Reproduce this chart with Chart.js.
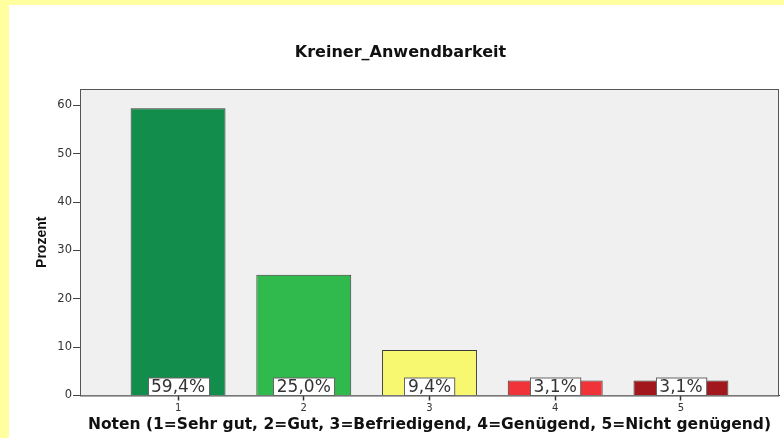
<!DOCTYPE html>
<html>
<head>
<meta charset="utf-8">
<script src="https://cdn.jsdelivr.net/npm/chart.js@4.4.0/dist/chart.umd.min.js"></script>
<style>
  html, body { margin: 0; padding: 0; background: #FFFFA0; width: 784px; height: 438px; overflow: hidden; }
  #box { position: absolute; left: 9px; top: 5px; width: 775px; height: 433px; background: #fff; }
</style>
</head>
<body>
<div id="box"><canvas id="myChart" width="775" height="433"></canvas></div>
<script>
// Noten 1..5, Prozent
const noten = [1, 2, 3, 4, 5];
const prozent = [59.4, 25.0, 9.4, 3.1, 3.1];
const prozentLabels = ['59,4%', '25,0%', '9,4%', '3,1%', '3,1%'];
const barColors = ['#128D4B', '#30B94C', '#F8F770', '#EF3339', '#A2171B'];

const plotBackground = {
    id: 'plotBackground',
    beforeDatasetsDraw(chart) {
        const a = chart.chartArea;
        const ctx = chart.ctx;
        ctx.save();
        ctx.fillStyle = '#F0F0F0';
        ctx.fillRect(a.left, a.top, a.right - a.left, a.bottom - a.top);
        ctx.strokeStyle = '#555';
        ctx.lineWidth = 1;
        ctx.strokeRect(a.left + 0.5, a.top + 0.5, a.right - a.left - 1, a.bottom - a.top);
        ctx.restore();
    }
};

// white boxes with the percentage at the foot of each bar
const valueBoxes = {
    id: 'valueBoxes',
    afterDatasetsDraw(chart) {
        const ctx = chart.ctx;
        const y0 = chart.scales.y.getPixelForValue(0);
        ctx.save();
        ctx.font = '17px "DejaVu Sans"';
        ctx.textAlign = 'center';
        ctx.textBaseline = 'middle';
        chart.getDatasetMeta(0).data.forEach(function(bar, i) {
            const txt = prozentLabels[i];
            const w = ctx.measureText(txt).width + 7;
            const h = 17.5;
            const x = Math.round(bar.x - w / 2) + 0.5;
            ctx.fillStyle = '#fff';
            ctx.fillRect(x, y0 - h, w, h);
            ctx.strokeStyle = '#666';
            ctx.lineWidth = 1;
            ctx.strokeRect(x, y0 - h, w, h);
            ctx.fillStyle = '#333';
            ctx.fillText(txt, bar.x, y0 - h / 2 + 1);
        });
        ctx.restore();
    }
};

const ctx = document.getElementById('myChart').getContext('2d');
const myChart = new Chart(ctx, {
    type: 'bar',
    data: {
        datasets: [{
            data: noten.map(function(n, i) { return { x: n, y: prozent[i] }; }),
            backgroundColor: barColors,
            borderColor: '#3a3a3a',
            borderWidth: 1,
            barPercentage: 0.755,
            categoryPercentage: 1.0
        }]
    },
    options: {
        responsive: false,
        animation: false,
        layout: { padding: { left: 13, right: 5, top: 0, bottom: 0 } },
        plugins: {
            legend: { display: false },
            tooltip: { enabled: false },
            title: {
                display: true,
                text: 'Kreiner_Anwendbarkeit',
                color: '#111',
                font: { family: '"DejaVu Sans"', size: 16, weight: 'bold', lineHeight: 1.2 },
                padding: { top: 38.4, bottom: 26.4 }
            }
        },
        scales: {
            x: {
                type: 'linear',
                offset: false,
                min: 0.22,
                max: 5.78,
                afterBuildTicks: function(scale) {
                    scale.ticks = noten.map(function(v) { return { value: v }; });
                },
                afterFit: function(scale) { scale.height = 42.5; },
                grid: {
                    offset: false, display: true, drawOnChartArea: false, drawTicks: true,
                    tickLength: 5, tickWidth: 1.5, tickColor: '#333', color: '#333'
                },
                border: { display: true, color: '#444' },
                ticks: {
                    color: '#333',
                    padding: 2,
                    maxRotation: 0,
                    font: { family: '"DejaVu Sans"', size: 10 },
                    callback: function(v) { return String(v); }
                },
                title: {
                    display: true,
                    text: 'Noten (1=Sehr gut, 2=Gut, 3=Befriedigend, 4=Genügend, 5=Nicht genügend)',
                    color: '#111',
                    font: { family: '"DejaVu Sans"', size: 15.5, weight: 'bold', lineHeight: 1.2 },
                    padding: { top: 0, bottom: 4 }
                }
            },
            y: {
                min: 0,
                max: 63.4,
                afterFit: function(scale) { scale.width = 58; },
                grid: { drawOnChartArea: false, drawTicks: true, tickLength: 7, tickColor: '#444' },
                border: { display: true, color: '#444' },
                ticks: {
                    stepSize: 10,
                    includeBounds: false,
                    color: '#333',
                    padding: 1,
                    font: { family: '"DejaVu Sans"', size: 11.5 }
                },
                title: {
                    display: true,
                    text: 'Prozent',
                    color: '#111',
                    font: { family: '"Liberation Sans Narrow", "Liberation Sans"', size: 14, weight: 'bold', lineHeight: 1.2 },
                    padding: { top: 12, bottom: 0 }
                }
            }
        }
    },
    plugins: [plotBackground, valueBoxes]
});
</script>
</body>
</html>
